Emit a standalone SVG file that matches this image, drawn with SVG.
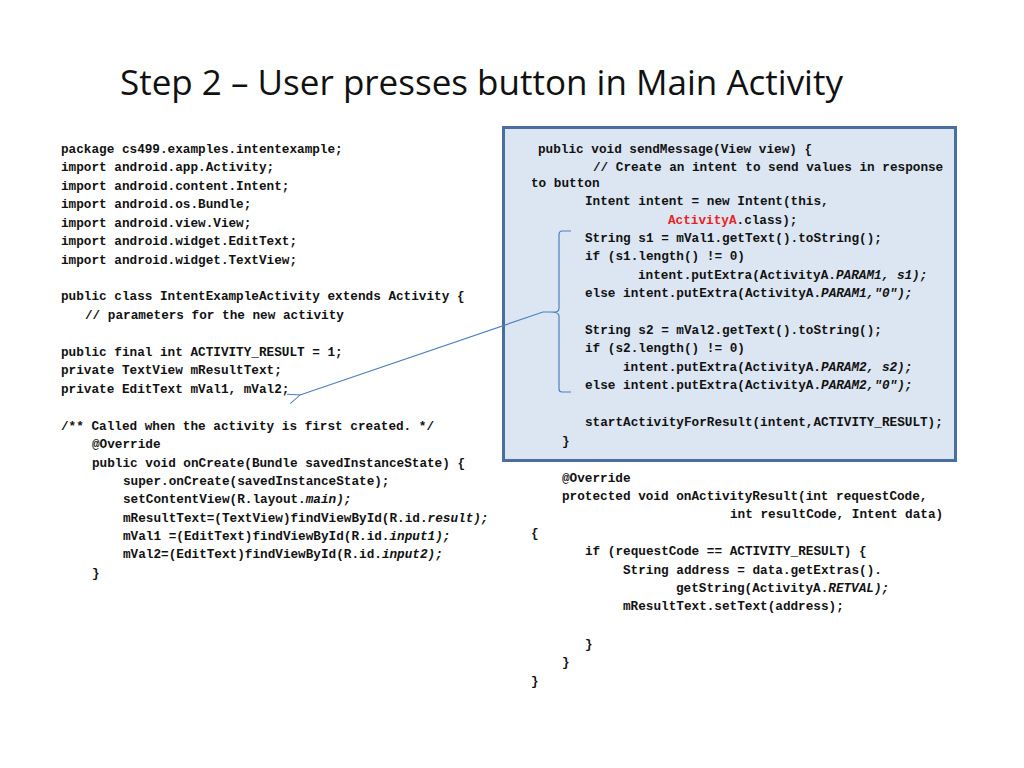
<svg xmlns="http://www.w3.org/2000/svg" width="1024" height="768" viewBox="0 0 1024 768">
<style>
text.c{font-family:"Liberation Mono","Courier New",monospace;font-weight:bold;font-size:12.7px;fill:#111;white-space:pre}
.i{font-style:italic}
.r{fill:#e8231f}
</style>
<defs><marker id="ah" markerWidth="14" markerHeight="12" refX="1" refY="6" orient="auto" markerUnits="userSpaceOnUse"><path d="M13,1 L1,6 L13,11" fill="none" stroke="#4f7ec0" stroke-width="1"/></marker></defs>
<rect width="1024" height="768" fill="#fff"/>
<text x="120" y="95" font-family="Open Sans, Liberation Sans, sans-serif" font-size="35" fill="#111" textLength="723" lengthAdjust="spacingAndGlyphs">Step 2 – User presses button in Main Activity</text>
<g id="box"><rect x="503.5" y="127.5" width="452" height="333" fill="#dce6f2" stroke="#4a6ea0" stroke-width="3"/></g>
<g id="left">
<text class="c" x="61" y="153">package cs499.examples.intentexample;</text>
<text class="c" x="61" y="171">import android.app.Activity;</text>
<text class="c" x="61" y="190">import android.content.Intent;</text>
<text class="c" x="61" y="208">import android.os.Bundle;</text>
<text class="c" x="61" y="227">import android.view.View;</text>
<text class="c" x="61" y="245">import android.widget.EditText;</text>
<text class="c" x="61" y="264">import android.widget.TextView;</text>
<text class="c" x="61" y="300">public class IntentExampleActivity extends Activity {</text>
<text class="c" x="85" y="319">// parameters for the new activity</text>
<text class="c" x="61" y="356">public final int ACTIVITY_RESULT = 1;</text>
<text class="c" x="61" y="374">private TextView mResultText;</text>
<text class="c" x="61" y="393">private EditText mVal1, mVal2;</text>
<text class="c" x="61" y="430">/** Called when the activity is first created. */</text>
<text class="c" x="92" y="448">@Override</text>
<text class="c" x="92" y="467">public void onCreate(Bundle savedInstanceState) {</text>
<text class="c" x="123" y="485">super.onCreate(savedInstanceState);</text>
<text class="c" x="123" y="503">setContentView(R.layout.<tspan class="i">main);</tspan></text>
<text class="c" x="123" y="522">mResultText=(TextView)findViewById(R.id.<tspan class="i">result);</tspan></text>
<text class="c" x="123" y="540">mVal1 =(EditText)findViewById(R.id.<tspan class="i">input1);</tspan></text>
<text class="c" x="123" y="558">mVal2=(EditText)findViewById(R.id.<tspan class="i">input2);</tspan></text>
<text class="c" x="92" y="577">}</text>
</g>
<g id="right">
<text class="c" x="538" y="153">public void sendMessage(View view) {</text>
<text class="c" x="593" y="171">// Create an intent to send values in response</text>
<text class="c" x="531" y="187">to button</text>
<text class="c" x="585" y="205">Intent intent = new Intent(this,</text>
<text class="c" x="668" y="224"><tspan class="r">ActivityA</tspan>.class);</text>
<text class="c" x="585" y="242">String s1 = mVal1.getText().toString();</text>
<text class="c" x="585" y="260">if (s1.length() != 0)</text>
<text class="c" x="638" y="279">intent.putExtra(ActivityA.<tspan class="i">PARAM1, s1);</tspan></text>
<text class="c" x="585" y="297">else intent.putExtra(ActivityA.<tspan class="i">PARAM1,"0");</tspan></text>
<text class="c" x="585" y="334">String s2 = mVal2.getText().toString();</text>
<text class="c" x="585" y="352">if (s2.length() != 0)</text>
<text class="c" x="623" y="371">intent.putExtra(ActivityA.<tspan class="i">PARAM2, s2);</tspan></text>
<text class="c" x="585" y="389">else intent.putExtra(ActivityA.<tspan class="i">PARAM2,"0");</tspan></text>
<text class="c" x="585" y="426">startActivityForResult(intent,ACTIVITY_RESULT);</text>
<text class="c" x="562" y="445">}</text>
<text class="c" x="562" y="482">@Override</text>
<text class="c" x="562" y="500">protected void onActivityResult(int requestCode,</text>
<text class="c" x="730" y="518">int resultCode, Intent data)</text>
<text class="c" x="531" y="537">{</text>
<text class="c" x="585" y="555">if (requestCode == ACTIVITY_RESULT) {</text>
<text class="c" x="623" y="574">String address = data.getExtras().</text>
<text class="c" x="676" y="592">getString(ActivityA.<tspan class="i">RETVAL);</tspan></text>
<text class="c" x="623" y="610">mResultText.setText(address);</text>
<text class="c" x="585" y="648">}</text>
<text class="c" x="562" y="666">}</text>
<text class="c" x="531" y="685">}</text>
</g>
<g id="connectors" fill="none" stroke="#4f7ec0" stroke-width="1.2">
<path d="M571,231 L562,231 Q559,231 559,235 L559,308 Q559,312 555,312 L550,312 Q559,312 559,316 L559,389 Q559,392 562,392 L571,392"/>
<path d="M550,312 L543,312 L300,395" marker-end="url(#ah)"/>
</g>
</svg>
